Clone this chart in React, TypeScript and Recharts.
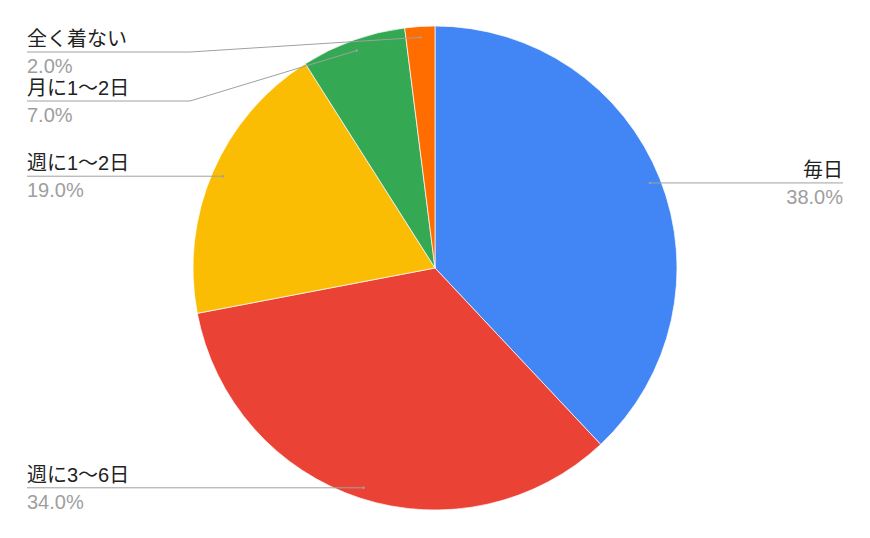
import React from 'react';
import { PieChart, Pie, Cell } from 'recharts';

const categories = ['毎日', '週に3〜6日', '週に1〜2日', '月に1〜2日', '全く着ない'];
const values = [38, 34, 19, 7, 2];
const colors = ['#4285F4', '#EA4335', '#FBBC04', '#34A853', '#FF6D01'];

const data = categories.map((name, i) => ({ name, value: values[i] }));

const W = 870;
const H = 538;
const CX = 435;
const CY = 268;
const R = 242;
const START = 90;
const LEFT_X = 27;
const RIGHT_X = 843;
const TOP_MIN = 52;
const GAP = 49;
const ELBOW_LEFT = 190;
const FONT = "Arial, 'Liberation Sans', 'Noto Sans CJK JP', sans-serif";
const RAD = Math.PI / 180;

// compute label layout (collision avoidance) from the same geometry
const total = values.reduce((a, b) => a + b, 0);
const layout: { px: number; py: number; side: 'L' | 'R'; y: number }[] = [];
{
  let acc = 0;
  values.forEach((v) => {
    const mid = START - ((acc + v / 2) / total) * 360;
    acc += v;
    const px = CX + R * 0.955 * Math.cos(mid * RAD);
    const py = CY - R * 0.955 * Math.sin(mid * RAD);
    layout.push({ px, py, side: px >= CX ? 'R' : 'L', y: py });
  });
  (['L', 'R'] as const).forEach((side) => {
    const idx = layout
      .map((l, i) => i)
      .filter((i) => layout[i].side === side)
      .sort((a, b) => layout[a].py - layout[b].py);
    let prev = -Infinity;
    idx.forEach((i) => {
      const y = Math.max(layout[i].py, TOP_MIN, prev + GAP);
      layout[i].y = y;
      prev = y;
    });
  });
}

const renderLabel = (props: any) => {
  const { cx, cy, midAngle, outerRadius, index, percent, name } = props;
  const px = cx + outerRadius * 0.955 * Math.cos(-midAngle * RAD);
  const py = cy + outerRadius * 0.955 * Math.sin(-midAngle * RAD);
  const l = layout[index];
  const isLeft = l.side === 'L';
  const endX = isLeft ? LEFT_X : RIGHT_X;
  const ly = l.y;
  let d: string;
  if (Math.abs(ly - py) < 1) {
    d = `M${px},${py}L${endX},${ly}`;
  } else {
    const ex = isLeft ? ELBOW_LEFT : W - ELBOW_LEFT;
    d = `M${px},${py}L${ex},${ly}L${endX},${ly}`;
  }
  return (
    <g key={`lab-${index}`}>
      <path d={d} stroke="#a0a0a0" strokeWidth={1} fill="none" />
      <circle cx={px} cy={py} r={1.2} fill="#a0a0a0" />
      <text
        x={endX}
        y={ly - 6}
        textAnchor={isLeft ? 'start' : 'end'}
        fontFamily={FONT}
        fontSize={20}
        fill="#222222"
      >
        {name}
      </text>
      <text
        x={endX}
        y={ly + 21}
        textAnchor={isLeft ? 'start' : 'end'}
        fontFamily={FONT}
        fontSize={20}
        fill="#9e9e9e"
      >
        {(percent * 100).toFixed(1)}%
      </text>
    </g>
  );
};

export default function App() {
  return (
    <div style={{ position: 'absolute', left: 0, top: 0, width: W, height: H, background: '#fff' }}>
      <PieChart width={W} height={H} margin={{ top: 0, right: 0, bottom: 0, left: 0 }}>
        <Pie
          data={data}
          dataKey="value"
          nameKey="name"
          cx={CX}
          cy={CY}
          outerRadius={R}
          startAngle={START}
          endAngle={START - 360}
          stroke="#ffffff"
          strokeWidth={0.7}
          label={renderLabel}
          labelLine={false}
          isAnimationActive={false}
        >
          {data.map((d, i) => (
            <Cell key={d.name} fill={colors[i]} />
          ))}
        </Pie>
      </PieChart>
    </div>
  );
}
